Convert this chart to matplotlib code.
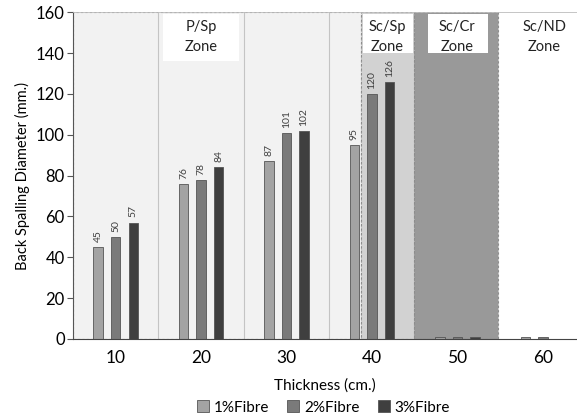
"""
Back spalling diameter vs slab thickness, grouped by fibre content
"""

import matplotlib.pyplot as plt
from matplotlib.patches import Rectangle
import numpy as np

plt.rcParams['font.family'] = ['Lato', 'DejaVu Sans']

# Datos
espesores = ['10', '20', '30', '40', '50', '60']
fibra_1 = [45, 76, 87, 95, 1, 1]
fibra_2 = [50, 78, 101, 120, 1, 1]
fibra_3 = [57, 84, 102, 126, 1, 0]
series = ['1%Fibre', '2%Fibre', '3%Fibre']
zonas = ['P/Sp\nZone', 'Sc/Sp\nZone', 'Sc/Cr\nZone', 'Sc/ND\nZone']

colores = ['#a3a3a3', '#7a7a7a', '#3f3f3f']

fig = plt.figure(figsize=(5.77, 4.2), dpi=100)
ax = fig.add_axes([0.1265, 0.193, 0.8735, 0.778])

x = np.arange(len(espesores))
ancho = 0.11
paso = 0.205

# Fondos de zonas
borde = dict(edgecolor='#8c8c8c', linestyle=(0, (2, 2)), linewidth=0.8, zorder=0)
ax.add_patch(Rectangle((-0.5, 0), 3.37, 160, facecolor='#f2f2f2', **borde))
ax.add_patch(Rectangle((2.87, 0), 0.62, 160, facecolor='#d2d2d2', **borde))
ax.add_patch(Rectangle((3.49, 0), 0.99, 160, facecolor='#999999', **borde))
for xv in [0.5, 1.5, 2.5]:
    ax.axvline(xv, color='#c4c4c4', linewidth=0.8, zorder=0.5)

# Barras
for i, (vals, nombre) in enumerate(zip([fibra_1, fibra_2, fibra_3], series)):
    pos = x + (i - 1) * paso
    barras = ax.bar(pos, vals, width=ancho, color=colores[i], edgecolor='#555555',
                    linewidth=0.6, label=nombre, zorder=2)
    for b, v in zip(barras, vals):
        if v > 5:
            ax.text(b.get_x() + b.get_width() / 2, v + 2.5, str(v), rotation=90,
                    ha='center', va='bottom', fontsize=7.5, color='#404040', zorder=3)

# Cajas blancas y etiquetas de zonas
for (x0, x1, y0) in [(0.55, 1.44, 136), (2.89, 3.48, 140), (3.65, 4.36, 140)]:
    ax.add_patch(Rectangle((x0, y0), x1 - x0, 159 - y0, facecolor='white',
                           edgecolor='none', zorder=3))
for xc, texto in zip([1.0, 3.18, 4.0, 5.02], zonas):
    ax.text(xc, 148, texto, ha='center', va='center', fontsize=10.5,
            color='#222222', linespacing=1.55, zorder=4)

ax.set_xlim(-0.5, 5.4)
ax.set_ylim(0, 160)
ax.set_yticks(range(0, 161, 20))
ax.set_xticks(x)
ax.set_xticklabels(espesores)
ax.tick_params(axis='x', length=0, labelsize=12.5, pad=8)
ax.tick_params(axis='y', length=4, labelsize=12, color='#555555', pad=2)

ax.spines['right'].set_visible(False)
ax.spines['top'].set_color('#bbbbbb')
ax.spines['top'].set_linewidth(0.6)
ax.spines['left'].set_color('#555555')
ax.spines['bottom'].set_color('#444444')

ax.set_ylabel('Back Spalling Diameter (mm.)', fontsize=10.5, labelpad=4)
ax.set_xlabel('Thickness (cm.)', fontsize=11, labelpad=9)

fig.legend(loc='lower center', bbox_to_anchor=(0.56, -0.02), ncol=3, frameon=False,
           fontsize=11, handlelength=0.8, handleheight=0.8, handletextpad=0.3,
           columnspacing=1.2)

fig.savefig('out.png', dpi=100)
